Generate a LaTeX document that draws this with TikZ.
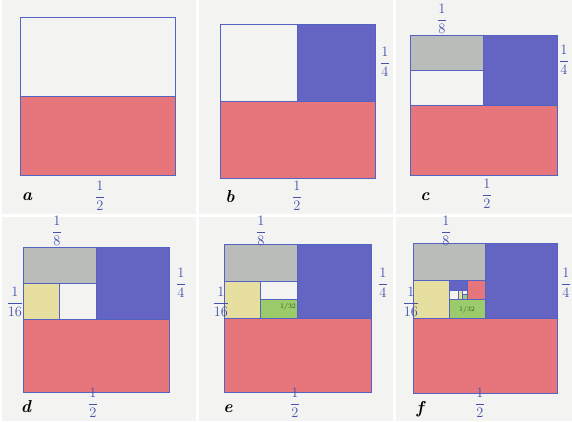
\documentclass[tikz,border=0pt]{standalone}
\usepackage{amsmath,amssymb}
\usepackage{tikz}
\usetikzlibrary{positioning}
\definecolor{pen}{HTML}{5462C4}
\definecolor{inkpen}{HTML}{4452AE}
\definecolor{paper}{HTML}{F3F3F1}
\definecolor{redpencil}{HTML}{E6767B}
\definecolor{bluepencil}{HTML}{6464C2}
\definecolor{graypencil}{HTML}{B9BCB8}
\definecolor{yellowpencil}{HTML}{E6DFA0}
\definecolor{greenpencil}{HTML}{9BCB6A}
\definecolor{greenink}{HTML}{2E5A24}

\begin{document}
\begin{tikzpicture}[x=1pt,y=-1pt,
  penline/.style={draw=pen,line width=0.7pt},
  frac/.style={text=inkpen,font=\Large,inner sep=0pt},
  tag/.style={text=black,font=\LARGE\bfseries\itshape,inner sep=0pt},
  small/.style={text=greenink,font=\scriptsize,inner sep=0pt}]
  \useasboundingbox (0,0) rectangle (572,421);
  \fill[white] (0,0) rectangle (572,421);
  % paper of the six photos
  \fill[paper] (2,0) rectangle (196,214);
  \fill[paper] (199,0) rectangle (393,214);
  \fill[paper] (396,0) rectangle (572,214);
  \fill[paper] (2,217) rectangle (196,421);
  \fill[paper] (199,217) rectangle (393,421);
  \fill[paper] (396,217) rectangle (572,421);

  % a
  \begin{scope}[shift={(20,17)},x=155pt,y=-158pt]
    \fill[redpencil] (0,0.5) rectangle (1,1);
    \draw[penline] (0,0) rectangle (1,1);
    \draw[penline] (0,0.5) -- (1,0.5);
  \end{scope}
  \node[tag] (a) at (27,197) {a};
  \node[frac] (a2) at (100,196) {$\dfrac{1}{2}$};

  % b
  \begin{scope}[shift={(220,24)},x=155pt,y=-154pt]
    \fill[redpencil] (0,0.5) rectangle (1,1);
    \fill[bluepencil] (0.5,0) rectangle (1,0.5);
    \draw[penline] (0,0) rectangle (1,1);
    \draw[penline] (0,0.5) -- (1,0.5);
    \draw[penline] (0.5,0) -- (0.5,0.5);
  \end{scope}
  \node[tag] (b) at (230,197) {b};
  \node[frac] (b2) at (297,196) {$\dfrac{1}{2}$};
  \node[frac] (b4) at (385,62) {$\dfrac{1}{4}$};

  % c
  \begin{scope}[shift={(410,35)},x=147pt,y=-140pt]
    \fill[redpencil] (0,0.5) rectangle (1,1);
    \fill[bluepencil] (0.5,0) rectangle (1,0.5);
    \fill[graypencil] (0,0) rectangle (0.5,0.25);
    \draw[penline] (0,0) rectangle (1,1);
    \draw[penline] (0,0.5) -- (1,0.5);
    \draw[penline] (0.5,0) -- (0.5,0.5);
    \draw[penline] (0,0.25) -- (0.5,0.25);
  \end{scope}
  \node[tag] (c) at (425,197) {c};
  \node[frac] (c2) at (487,194) {$\dfrac{1}{2}$};
  \node[frac] (c8) at (442,19) {$\dfrac{1}{8}$};
  \node[frac] (c4) at (564,60) {$\dfrac{1}{4}$};

  % d
  \begin{scope}[shift={(23,247)},x=146pt,y=-145pt]
    \fill[redpencil] (0,0.5) rectangle (1,1);
    \fill[bluepencil] (0.5,0) rectangle (1,0.5);
    \fill[graypencil] (0,0) rectangle (0.5,0.25);
    \fill[yellowpencil] (0,0.25) rectangle (0.25,0.5);
    \draw[penline] (0,0) rectangle (1,1);
    \draw[penline] (0,0.5) -- (1,0.5);
    \draw[penline] (0.5,0) -- (0.5,0.5);
    \draw[penline] (0,0.25) -- (0.5,0.25);
    \draw[penline] (0.25,0.25) -- (0.25,0.5);
  \end{scope}
  \node[tag] (d) at (26,407) {d};
  \node[frac] (d2) at (93,403) {$\dfrac{1}{2}$};
  \node[frac] (d8) at (57,231) {$\dfrac{1}{8}$};
  \node[frac] (d16) at (15,302) {$\dfrac{1}{16}$};
  \node[frac] (d4) at (181,283) {$\dfrac{1}{4}$};

  % e
  \begin{scope}[shift={(224,244)},x=147pt,y=-148pt]
    \fill[redpencil] (0,0.5) rectangle (1,1);
    \fill[bluepencil] (0.5,0) rectangle (1,0.5);
    \fill[graypencil] (0,0) rectangle (0.5,0.25);
    \fill[yellowpencil] (0,0.25) rectangle (0.25,0.5);
    \fill[greenpencil] (0.25,0.375) rectangle (0.5,0.5);
    \draw[penline] (0,0) rectangle (1,1);
    \draw[penline] (0,0.5) -- (1,0.5);
    \draw[penline] (0.5,0) -- (0.5,0.5);
    \draw[penline] (0,0.25) -- (0.5,0.25);
    \draw[penline] (0.25,0.25) -- (0.25,0.5);
    \draw[penline] (0.25,0.375) -- (0.5,0.375);
  \end{scope}
  \node[small] (e32) at (288,307) {1/32};
  \node[tag] (e) at (228,409) {e};
  \node[frac] (e2) at (295,403) {$\dfrac{1}{2}$};
  \node[frac] (e8) at (261,231) {$\dfrac{1}{8}$};
  \node[frac] (e16) at (221,302) {$\dfrac{1}{16}$};
  \node[frac] (e4) at (383,283) {$\dfrac{1}{4}$};

  % f
  \begin{scope}[shift={(413,243)},x=144pt,y=-150pt]
    \fill[redpencil] (0,0.5) rectangle (1,1);
    \fill[bluepencil] (0.5,0) rectangle (1,0.5);
    \fill[graypencil] (0,0) rectangle (0.5,0.25);
    \fill[yellowpencil] (0,0.25) rectangle (0.25,0.5);
    \fill[greenpencil] (0.25,0.375) rectangle (0.5,0.5);
    \fill[redpencil] (0.375,0.25) rectangle (0.5,0.375);
    \fill[bluepencil] (0.25,0.25) rectangle (0.375,0.3125);
    \fill[yellowpencil] (0.3125,0.3125) rectangle (0.34375,0.375);
    \fill[greenpencil] (0.34375,0.34375) rectangle (0.375,0.375);
    \draw[penline] (0,0) rectangle (1,1);
    \draw[penline] (0,0.5) -- (1,0.5);
    \draw[penline] (0.5,0) -- (0.5,0.5);
    \draw[penline] (0,0.25) -- (0.5,0.25);
    \draw[penline] (0.25,0.25) -- (0.25,0.5);
    \draw[penline] (0.25,0.375) -- (0.5,0.375);
    \draw[penline] (0.375,0.25) -- (0.375,0.375);
    \draw[penline] (0.25,0.3125) -- (0.375,0.3125);
    \draw[penline] (0.3125,0.3125) -- (0.3125,0.375);
    \draw[penline] (0.34375,0.3125) -- (0.34375,0.375);
    \draw[penline] (0.34375,0.34375) -- (0.375,0.34375);
  \end{scope}
  \node[small] (f32) at (467,310) {1/32};
  \node[tag] (f) at (420,409) {f};
  \node[frac] (f2) at (480,403) {$\dfrac{1}{2}$};
  \node[frac] (f8) at (446,231) {$\dfrac{1}{8}$};
  \node[frac] (f16) at (411,302) {$\dfrac{1}{16}$};
  \node[frac] (f4) at (566,283) {$\dfrac{1}{4}$};
\end{tikzpicture}
\end{document}
